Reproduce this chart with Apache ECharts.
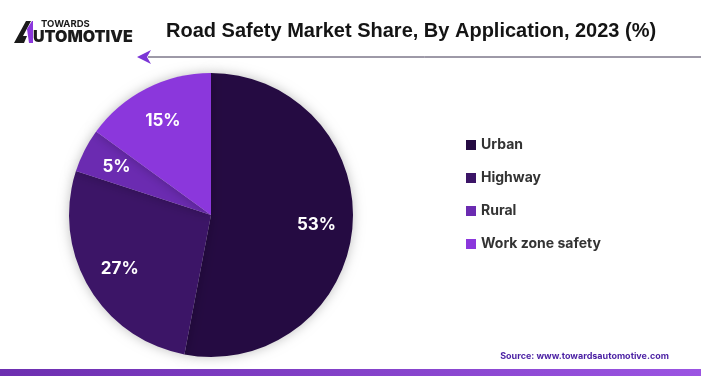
<!DOCTYPE html>
<html>
<head>
<meta charset="utf-8">
<script src="https://cdn.jsdelivr.net/npm/echarts@6/dist/echarts.min.js"></script>
<style>
  html, body { margin: 0; padding: 0; background: #fff; }
  #main { width: 701px; height: 376px; }
</style>
</head>
<body>
<div id="main"></div>
<script>
var categories = ['Urban', 'Highway', 'Rural', 'Work zone safety'];
var shares = [53, 27, 5, 15];
var colors = ['#250b42', '#3c1567', '#6b2bb1', '#8b37dc'];

var chart = echarts.init(document.getElementById('main'), null, { renderer: 'canvas' });

var pieData = categories.map(function (name, i) {
  return { name: name, value: shares[i], itemStyle: { color: colors[i] } };
});

var option = {
  backgroundColor: '#ffffff',
  animation: false,
  title: {
    text: 'Road Safety Market Share, By Application, 2023 (%)',
    left: 161,
    top: 16,
    textStyle: {
      fontFamily: 'Liberation Sans',
      fontWeight: 'bold',
      fontSize: 20,
      color: '#141414'
    }
  },
  legend: {
    orient: 'vertical',
    left: 461,
    top: 133,
    itemGap: 19,
    itemWidth: 10,
    itemHeight: 10,
    icon: 'rect',
    data: categories,
    textStyle: {
      fontFamily: 'Inter',
      fontWeight: 'bold',
      fontSize: 14,
      color: '#333333'
    }
  },
  graphic: [
    // logo mark
    { type: 'polygon', shape: { points: [[14, 43], [26, 21], [31, 21], [23, 36], [27, 36], [24, 43]] }, style: { fill: '#1a1a1a' } },
    { type: 'polygon', shape: { points: [[27, 29], [32, 21], [33, 21], [33, 43], [29, 43]] }, style: { fill: '#8b37dc' } },
    { type: 'text', left: 41, top: 19, style: { text: 'TOWARDS', fontFamily: 'Inter', fontWeight: 'bold', fontSize: 9.5, fill: '#1a1a1a' } },
    { type: 'text', left: 33, top: 29, style: { text: 'UTOMOTIVE', fontFamily: 'Inter', fontWeight: 900, fontSize: 16, fill: '#1a1a1a' } },
    // arrow line under title
    { type: 'line', shape: { x1: 148, y1: 57, x2: 701, y2: 57 }, style: { stroke: '#3d3450', lineWidth: 1 } },
    { type: 'polygon', shape: { points: [[137, 57], [151, 50], [147, 57], [151, 64]] }, style: { fill: '#7b35d6' } },
    // source
    { type: 'text', right: 32, top: 352, style: { text: 'Source: www.towardsautomotive.com', fontFamily: 'Inter', fontWeight: 'bold', fontSize: 9, fill: '#4a1fa3' } },
    // bottom bar
    { type: 'rect', shape: { x: 0, y: 369, width: 701, height: 7 },
      style: { fill: new echarts.graphic.LinearGradient(0, 0, 1, 0, [
        { offset: 0, color: '#6d2fb0' }, { offset: 1, color: '#9b54e2' }]) } }
  ],
  series: [
    {
      type: 'pie',
      center: [211, 215],
      radius: [0, 142],
      startAngle: 90,
      clockwise: true,
      label: { show: false },
      labelLine: { show: false },
      itemStyle: {
        shadowBlur: 12,
        shadowColor: 'rgba(0,0,0,0.25)'
      },
      silent: true,
      data: pieData
    },
    {
      type: 'pie',
      center: [211, 215],
      radius: [64, 142],
      startAngle: 90,
      clockwise: true,
      silent: true,
      legendHoverLink: false,
      itemStyle: { color: 'rgba(0,0,0,0)' },
      label: {
        show: true,
        position: 'inside',
        formatter: '{c}%',
        color: '#ffffff',
        fontFamily: 'Inter',
        fontWeight: 'bold',
        fontSize: 17
      },
      labelLine: { show: false },
      data: categories.map(function (name, i) {
        return { name: name + ' ', value: shares[i] };
      })
    }
  ]
};

chart.setOption(option);
</script>
</body>
</html>
